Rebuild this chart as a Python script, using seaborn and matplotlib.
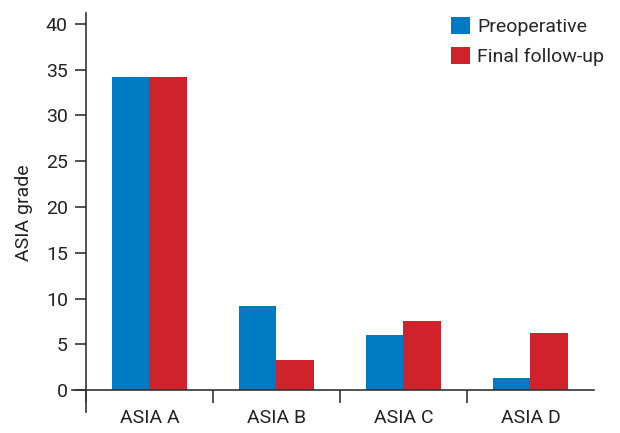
import matplotlib
matplotlib.use("Agg")
import matplotlib.pyplot as plt
import seaborn as sns
import pandas as pd

# ----------------------------
# Data
# ----------------------------
CATEGORIES = ["ASIA A", "ASIA B", "ASIA C", "ASIA D"]
PREOP = [34.2, 9.2, 6.0, 1.3]
FINAL = [34.2, 3.3, 7.5, 6.2]
SERIES = ["Preoperative", "Final follow-up"]
PALETTE = ["#007AC2", "#D0222B"]
Y_TICKS = [0, 5, 10, 15, 20, 25, 30, 35, 40]

df = pd.DataFrame({
    "grade": CATEGORIES * 2,
    "value": PREOP + FINAL,
    "series": [SERIES[0]] * len(CATEGORIES) + [SERIES[1]] * len(CATEGORIES),
})

sns.set_style("white")
plt.rcParams["font.family"] = ["Roboto", "DejaVu Sans"]
FS = 14
TXT = "#222222"
AX_C = "#333333"

fig = plt.figure(figsize=(6.2, 4.33), dpi=100)
ax = fig.add_axes([72 / 620, 21 / 433, 522 / 620, 399 / 433])

sns.barplot(
    data=df, x="grade", y="value", hue="series",
    order=CATEGORIES, hue_order=SERIES, palette=PALETTE,
    width=0.59, saturation=1, linewidth=0, ax=ax,
)

ax.set_xlim(-0.61, 3.5)
ax.set_ylim(-2.4, 41.2)
ax.spines["left"].set_position(("data", -0.5))
ax.spines["bottom"].set_position(("data", 0))
ax.spines["top"].set_visible(False)
ax.spines["right"].set_visible(False)
for side in ("left", "bottom"):
    ax.spines[side].set_color(AX_C)
    ax.spines[side].set_linewidth(1.2)

ax.set_yticks(Y_TICKS)
ax.tick_params(axis="y", left=True, length=8, width=1.2, color=AX_C,
               labelsize=FS, pad=5, labelcolor=TXT)
ax.set_xticks(range(len(CATEGORIES)))
ax.set_xticklabels(CATEGORIES)
ax.tick_params(axis="x", which="major", bottom=True, length=0, labelsize=FS,
               pad=14, labelcolor=TXT)
ax.set_xticks([-0.5, 0.5, 1.5, 2.5], minor=True)
ax.tick_params(axis="x", which="minor", bottom=True, length=9, width=1.2,
               color=AX_C, direction="out")

ax.set_xlabel("")
ax.set_ylabel("ASIA grade", fontsize=FS, color=TXT, labelpad=9)

ax.legend(
    loc="upper left", bbox_to_anchor=(451 / 620, 1 - 17 / 433),
    bbox_transform=fig.transFigure, frameon=False, fontsize=FS,
    handlelength=1.0, handleheight=0.95, handletextpad=0.35,
    labelspacing=0.55, borderpad=0, borderaxespad=0, title=None,
)

fig.savefig("out.png", dpi=100)
